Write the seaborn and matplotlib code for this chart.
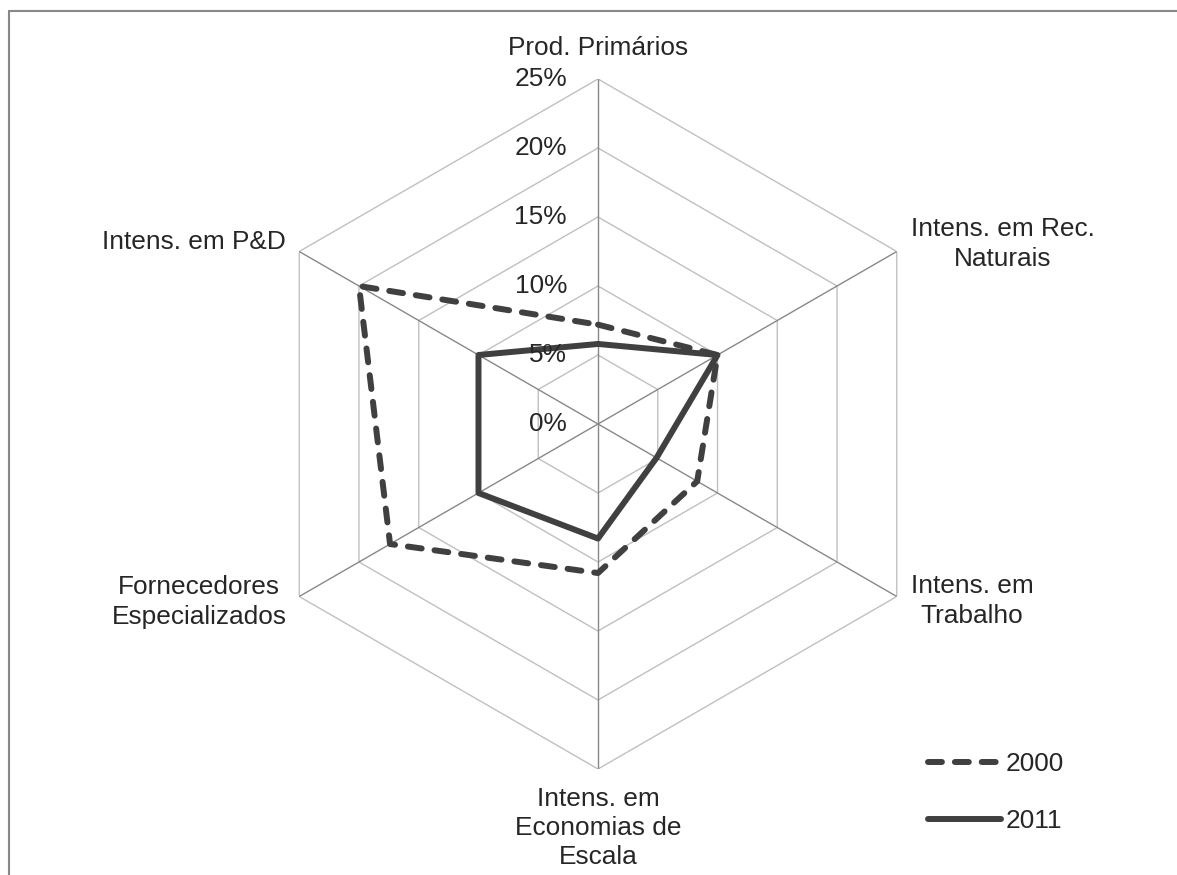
import numpy as np
import pandas as pd
import matplotlib
matplotlib.use("Agg")
import matplotlib.pyplot as plt
import matplotlib.transforms as mtransforms
from matplotlib.lines import Line2D
import seaborn as sns

# --- data -------------------------------------------------------------
categories = [
    "Prod. Primários",
    "Intens. em Rec.\nNaturais",
    "Intens. em\nTrabalho",
    "Intens. em\nEconomias de\nEscala",
    "Fornecedores\nEspecializados",
    "Intens. em P&D",
]
share_2000 = [7.2, 10.0, 8.3, 10.8, 17.4, 20.0]
share_2011 = [5.8, 10.0, 4.9, 8.3, 10.0, 10.0]
years = ["2000", "2011"]
tick_values = [0, 5, 10, 15, 20, 25]
tick_labels = ["0%", "5%", "10%", "15%", "20%", "25%"]

# --- style ------------------------------------------------------------
sns.set_style("white")
plt.rcParams["font.family"] = ["Liberation Sans", "DejaVu Sans"]
FS = 18.9
LINE_COLOR = "#404040"
GRID_COLOR = "#c0c0c0"
SPOKE_COLOR = "#888888"

W, H = 1177, 875
fig = plt.figure(figsize=(W / 100, H / 100), dpi=100)

# radar centre (px) and outer radius (px)
cx, cy, R = 598, 424, 345
ax = fig.add_axes([(cx - R) / W, (H - cy - R) / H, 2 * R / W, 2 * R / H],
                  projection="polar")
ax.set_theta_offset(np.pi / 2)
ax.set_theta_direction(-1)
ax.set_ylim(0, 25)
ax.grid(False)
ax.spines["polar"].set_visible(False)
ax.set_xticks([])
ax.set_yticks([])
ax.patch.set_alpha(0)

n = len(categories)
angles = np.linspace(0, 2 * np.pi, n, endpoint=False)
closed = np.append(angles, angles[0])

# hexagonal grid rings
for v in tick_values[1:]:
    ax.plot(closed, [v] * (n + 1), color=GRID_COLOR, lw=1.0, zorder=1)
# spokes
for a in angles:
    ax.plot([a, a], [0, 25], color=SPOKE_COLOR, lw=1.0, zorder=2)

# series
frames = []
for year, vals in zip(years, [share_2000, share_2011]):
    frames.append(pd.DataFrame({
        "theta": closed,
        "share": list(vals) + [vals[0]],
        "year": year,
    }))
df = pd.concat(frames, ignore_index=True)

lw = 4.3
styles = {"2000": (0, (2.33, 2.17)), "2011": "-"}
for year in years:
    sub = df[df["year"] == year]
    sns.lineplot(data=sub, x="theta", y="share", sort=False, estimator=None,
                 ax=ax, color=LINE_COLOR, lw=lw, linestyle=styles[year],
                 dash_capstyle="round", solid_capstyle="round",
                 solid_joinstyle="round", dash_joinstyle="round",
                 label=year, legend=False, zorder=3)
ax.set_xlabel("")
ax.set_ylabel("")
ax.set_ylim(0, 25)

# radial tick labels, left of the vertical axis
off = mtransforms.offset_copy(ax.transData, fig=fig, x=-31, y=0, units="dots")
for v, lab in zip(tick_values, tick_labels):
    ax.text(0, v, lab, transform=off, ha="right", va="center",
            fontsize=FS, color="#262626", zorder=4)

# category labels (pixel anchor points)
label_pos = [(598, 48), (1003, 244), (972, 601), (598, 828), (199, 602), (194, 242)]
for lab, (px, py) in zip(categories, label_pos):
    fig.text(px / W, 1 - py / H, lab, ha="center", va="center",
             fontsize=FS, color="#262626", linespacing=1.27)

# legend
handles = [Line2D([], [], color=LINE_COLOR, lw=lw, linestyle=styles[y],
                  dash_capstyle="round", solid_capstyle="round") for y in years]
leg = fig.legend(handles, years, loc="upper left",
                 bbox_to_anchor=(928 / W, 1 - 752 / H), frameon=False,
                 fontsize=FS, handlelength=2.77, handletextpad=0.2,
                 labelspacing=1.25, borderpad=0, borderaxespad=0)
for t in leg.get_texts():
    t.set_color("#262626")

# outer frame (left and top edges)
frame_kw = dict(color="#888888", lw=1.5, transform=fig.transFigure)
fig.add_artist(Line2D([8.5 / W, 8.5 / W], [0, 1 - 10.5 / H], **frame_kw))
fig.add_artist(Line2D([8.5 / W, 1], [1 - 10.5 / H, 1 - 10.5 / H], **frame_kw))

fig.savefig("out.png", dpi=100)
